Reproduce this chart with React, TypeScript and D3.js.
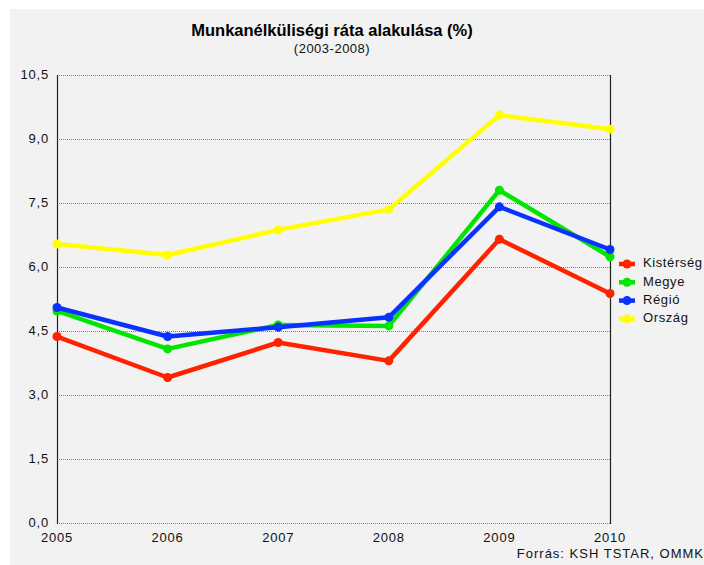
import React, { useEffect, useRef } from "react";
import * as d3 from "d3";

const years = [2005, 2006, 2007, 2008, 2009, 2010];
const yTicks = [0, 1.5, 3, 4.5, 6, 7.5, 9, 10.5];

const kisterseg = [4.37, 3.41, 4.23, 3.8, 6.65, 5.38];
const megye = [4.97, 4.08, 4.64, 4.62, 7.8, 6.24];
const regio = [5.05, 4.37, 4.59, 4.82, 7.41, 6.41];
const orszag = [6.54, 6.28, 6.87, 7.35, 9.56, 9.23];

const seriesNames = ["Kistérség", "Megye", "Régió", "Ország"];
const seriesColors = ["#ff2200", "#00e600", "#0a32ff", "#ffff00"];

const App: React.FC = () => {
  const svgRef = useRef<SVGSVGElement | null>(null);

  useEffect(() => {
    if (!svgRef.current) return;
    const svg = d3.select(svgRef.current);
    svg.selectAll("*").remove();

    const width = 704;
    const height = 565;
    const margin = { top: 75, right: 94, bottom: 42, left: 57 };
    const font = "'Liberation Sans', Arial, sans-serif";

    svg.attr("width", width).attr("height", height);

    svg
      .append("rect")
      .attr("x", 10)
      .attr("y", 9)
      .attr("width", width - 10)
      .attr("height", height - 9)
      .attr("fill", "#f2f2f2");

    const x = d3
      .scaleLinear()
      .domain([2005, 2010])
      .range([margin.left, width - margin.right]);

    const y = d3
      .scaleLinear()
      .domain([0, 10.5])
      .range([height - margin.bottom, margin.top]);

    // grid
    svg
      .append("g")
      .selectAll("line")
      .data(yTicks)
      .join("line")
      .attr("x1", x(2005))
      .attr("x2", x(2010))
      .attr("y1", (d) => y(d) + 0.5)
      .attr("y2", (d) => y(d) + 0.5)
      .attr("stroke", "#808080")
      .attr("stroke-width", 1)
      .attr("stroke-dasharray", "1,1");

    // vertical borders
    [2005, 2010].forEach((v) => {
      svg
        .append("line")
        .attr("x1", x(v) + 0.5)
        .attr("x2", x(v) + 0.5)
        .attr("y1", y(10.5))
        .attr("y2", y(0) + 1)
        .attr("stroke", "#222")
        .attr("stroke-width", 1.2);
    });

    const fmt = (d: number) => d.toFixed(1).replace(".", ",");

    svg
      .append("g")
      .selectAll("text")
      .data(yTicks)
      .join("text")
      .attr("x", margin.left - 8)
      .attr("y", (d) => y(d) + 1)
      .attr("text-anchor", "end")
      .attr("dominant-baseline", "middle")
      .attr("font-family", font)
      .attr("font-size", 13)
      .attr("letter-spacing", 0.8)
      .attr("fill", "#111")
      .text(fmt);

    svg
      .append("g")
      .selectAll("text")
      .data(years)
      .join("text")
      .attr("x", (d) => x(d))
      .attr("y", height - margin.bottom + 19)
      .attr("text-anchor", "middle")
      .attr("font-family", font)
      .attr("font-size", 13)
      .attr("letter-spacing", 0.8)
      .attr("fill", "#111")
      .text((d) => String(d));

    const allSeries = [kisterseg, megye, regio, orszag];
    const line = d3
      .line<number>()
      .x((_, i) => x(years[i]))
      .y((d) => y(d));

    // yellow behind, then red, green, blue on top
    const drawOrder = [3, 0, 1, 2];
    drawOrder.forEach((si) => {
      const data = allSeries[si];
      const g = svg.append("g");
      g.append("path")
        .attr("d", line(data))
        .attr("fill", "none")
        .attr("stroke", seriesColors[si])
        .attr("stroke-width", 4.5)
        .attr("stroke-linejoin", "round");
      g.selectAll("circle")
        .data(data)
        .join("circle")
        .attr("cx", (_, i) => x(years[i]))
        .attr("cy", (d) => y(d))
        .attr("r", 4.5)
        .attr("fill", seriesColors[si]);
    });

    // legend
    const legend = svg.append("g").attr("transform", "translate(619,264)");
    seriesNames.forEach((name, i) => {
      const row = legend.append("g").attr("transform", `translate(0,${i * 18.3})`);
      row
        .append("line")
        .attr("x1", 0)
        .attr("x2", 16)
        .attr("y1", 0)
        .attr("y2", 0)
        .attr("stroke", seriesColors[i])
        .attr("stroke-width", 4.5);
      row.append("circle").attr("cx", 8).attr("cy", 0).attr("r", 4.5).attr("fill", seriesColors[i]);
      row
        .append("text")
        .attr("x", 24)
        .attr("y", 0)
        .attr("dominant-baseline", "middle")
        .attr("font-family", font)
        .attr("font-size", 13)
        .attr("letter-spacing", 0.6)
        .attr("fill", "#111")
        .text(name);
    });

    svg
      .append("text")
      .attr("x", 332)
      .attr("y", 36)
      .attr("text-anchor", "middle")
      .attr("font-family", font)
      .attr("font-weight", "bold")
      .attr("font-size", 16.5)
      .attr("fill", "#000")
      .text("Munkanélküliségi ráta alakulása (%)");

    svg
      .append("text")
      .attr("x", 332)
      .attr("y", 53)
      .attr("text-anchor", "middle")
      .attr("font-family", font)
      .attr("font-size", 13)
      .attr("letter-spacing", 0.5)
      .attr("fill", "#111")
      .text("(2003-2008)");

    svg
      .append("text")
      .attr("x", 704)
      .attr("y", 558)
      .attr("text-anchor", "end")
      .attr("font-family", font)
      .attr("font-size", 13)
      .attr("letter-spacing", 1)
      .attr("fill", "#111")
      .text("Forrás: KSH TSTAR, OMMK");
  }, []);

  return <svg ref={svgRef} style={{ position: "absolute", left: 0, top: 0 }}></svg>;
};

export default App;
